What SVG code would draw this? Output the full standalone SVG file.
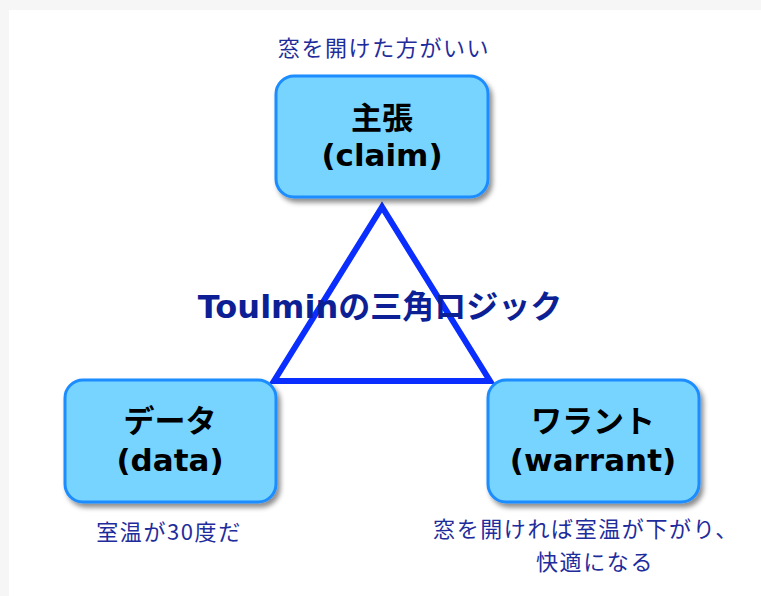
<svg xmlns="http://www.w3.org/2000/svg" width="761" height="596" viewBox="0 0 761 596">
<defs>
<filter id="sh" x="-10%" y="-10%" width="125%" height="130%">
<feDropShadow dx="3" dy="4" stdDeviation="2.5" flood-color="#000" flood-opacity="0.45"/>
</filter>
<style>
.box{fill:#77d4ff;stroke:#1a8cff;stroke-width:3}
.nt{font-family:"DejaVu Sans","Noto Sans CJK JP",sans-serif;font-weight:bold;font-size:31px;fill:#000;text-anchor:middle}
.lb{font-family:"Noto Sans CJK JP",sans-serif;font-size:22px;letter-spacing:1.6px;fill:#1f2d9c;text-anchor:middle}
.ti{font-family:"DejaVu Sans","Noto Sans CJK JP",sans-serif;font-weight:bold;font-size:32px;fill:#0d1f94;text-anchor:middle}
</style>
</defs>
<rect x="0" y="0" width="761" height="596" fill="#f6f6f6"/>
<rect x="9" y="10" width="760" height="600" fill="#fff"/>
<g id="connectors">
<polygon points="382,207 274,381 490,381" fill="none" stroke="#0a2eff" stroke-width="6" stroke-linejoin="miter"/>
</g>
<g id="title"><text class="ti" x="380" y="318">Toulminの三角ロジック</text></g>
<g id="claim">
<rect class="box" x="276" y="76" width="212" height="121" rx="18" filter="url(#sh)"/>
<text class="nt" x="382" y="129">主張</text>
<text class="nt" x="382" y="166">(claim)</text>
<text class="lb" x="384" y="56">窓を開けた方がいい</text>
</g>
<g id="data">
<rect class="box" x="65" y="380" width="211" height="122" rx="18" filter="url(#sh)"/>
<text class="nt" x="170" y="432">データ</text>
<text class="nt" x="170" y="471">(data)</text>
<text class="lb" x="169" y="540">室温が30度だ</text>
</g>
<g id="warrant">
<rect class="box" x="488" y="380" width="211" height="122" rx="18" filter="url(#sh)"/>
<text class="nt" x="593" y="432">ワラント</text>
<text class="nt" x="593" y="471">(warrant)</text>
<text class="lb" x="586" y="537">窓を開ければ室温が下がり、</text>
<text class="lb" x="595" y="570">快適になる</text>
</g>
</svg>
